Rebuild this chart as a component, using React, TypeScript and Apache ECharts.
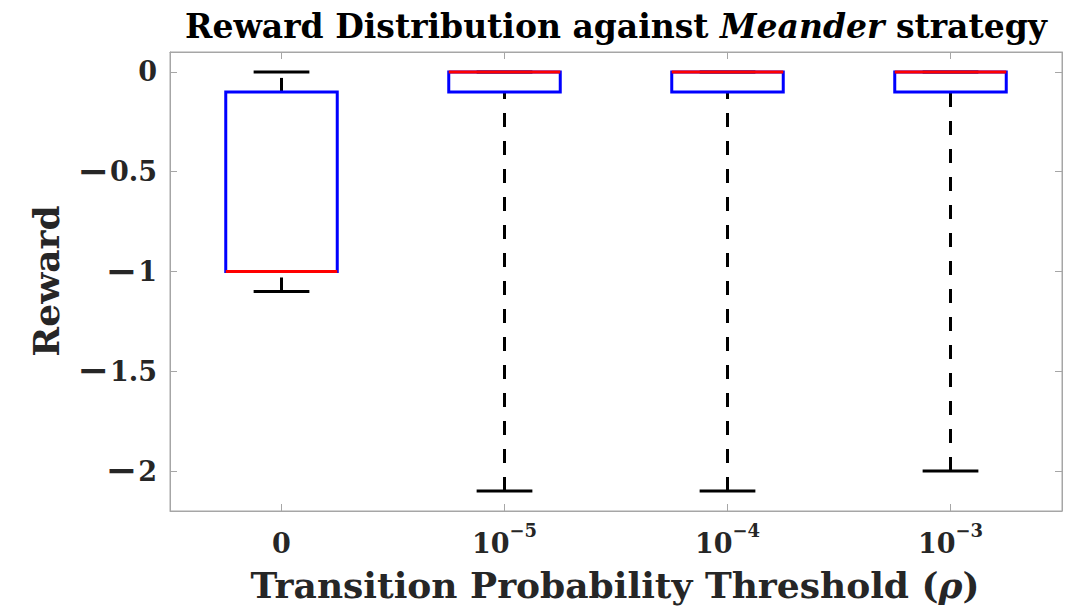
import React, { useEffect, useRef } from 'react';
import * as echarts from 'echarts';

const categories = ['0', '1e-5', '1e-4', '1e-3'];
const exponents = ['', '−5', '−4', '−3'];
const whiskerLow = [-1.1, -2.1, -2.1, -2.0];
const q1 = [-1.0, -0.1, -0.1, -0.1];
const median = [-1.0, 0, 0, 0];
const q3 = [-0.1, 0, 0, 0];
const whiskerHigh = [0, 0, 0, 0];
const yTicks = [-2, -1.5, -1, -0.5, 0];

const FONT = 'DejaVu Serif';

export default function App() {
  const ref = useRef<HTMLDivElement>(null);
  useEffect(() => {
    if (!ref.current) return;
    const chart = echarts.init(ref.current, null, { renderer: 'svg' });
    const data = categories.map((_, i) => [i, whiskerLow[i], q1[i], median[i], q3[i], whiskerHigh[i]]);
    const axisGrey = '#a6a6a6';
    const fmtY = (v: number) => (v < 0 ? '{m|−}{n|' + String(Math.abs(v)) + '}' : '{n|' + String(v) + '}');
    const xLabelFmt = (_: string, i: number) => (i === 0 ? '{b|0}' : '{b|10}{s|' + exponents[i] + '}');
    const rich = {
      b: { fontFamily: FONT, fontWeight: 'bold', fontSize: 27, color: '#262626', lineHeight: 36, verticalAlign: 'bottom' },
      s: { fontFamily: FONT, fontWeight: 'bold', fontSize: 18, color: '#262626', verticalAlign: 'top', lineHeight: 36 },
    };
    const yRich = {
      m: { fontFamily: 'DejaVu Sans', fontWeight: 'bold', fontSize: 38, color: '#262626', lineHeight: 30, padding: [0, 1, 2, 0] },
      n: { fontFamily: FONT, fontWeight: 'bold', fontSize: 27, color: '#262626', lineHeight: 30 },
    };
    const option: any = {
      animation: false,
      backgroundColor: '#ffffff',
      grid: { left: 170, right: 5, top: 52, bottom: 98, show: true, borderColor: axisGrey, borderWidth: 1 },
      xAxis: [
        {
          type: 'category',
          data: categories,
          boundaryGap: true,
          axisLine: { show: true, onZero: false, lineStyle: { color: axisGrey } },
          axisTick: { show: true, inside: true, alignWithLabel: true, length: 7, lineStyle: { color: axisGrey } },
          axisLabel: { formatter: xLabelFmt, rich, margin: 10 },
          splitLine: { show: false },
        },
        {
          type: 'category',
          data: categories,
          position: 'top',
          boundaryGap: true,
          axisLine: { show: true, onZero: false, lineStyle: { color: axisGrey } },
          axisTick: { show: true, inside: true, alignWithLabel: true, length: 7, lineStyle: { color: axisGrey } },
          axisLabel: { show: false },
          splitLine: { show: false },
        },
      ],
      yAxis: [
        {
          type: 'value',
          min: -2.2,
          max: 0.1,
          axisLine: { show: true, onZero: false, lineStyle: { color: axisGrey } },
          axisTick: { show: true, inside: true, length: 7, customValues: yTicks, lineStyle: { color: axisGrey } },
          axisLabel: {
            customValues: yTicks,
            formatter: fmtY,
            rich: yRich,
            margin: 13,
          },
          splitLine: { show: false },
        },
        {
          type: 'value',
          min: -2.2,
          max: 0.1,
          position: 'right',
          axisLine: { show: true, onZero: false, lineStyle: { color: axisGrey } },
          axisTick: { show: true, inside: true, length: 7, customValues: yTicks, lineStyle: { color: axisGrey } },
          axisLabel: { show: false },
          splitLine: { show: false },
        },
      ],
      series: [
        {
          type: 'custom',
          xAxisIndex: 0,
          yAxisIndex: 0,
          data,
          encode: { x: 0, y: [1, 2, 3, 4, 5] },
          renderItem: (params: any, api: any) => {
            const idx = api.value(0);
            const band = api.size([1, 0])[0];
            const half = band * 0.25;
            const capHalf = band * 0.125;
            const pLow = api.coord([idx, api.value(1)]);
            const pQ1 = api.coord([idx, api.value(2)]);
            const pMed = api.coord([idx, api.value(3)]);
            const pQ3 = api.coord([idx, api.value(4)]);
            const pHigh = api.coord([idx, api.value(5)]);
            const cx = pMed[0];
            const lw = 3;
            const blk = '#000000';
            const children: any[] = [];
            children.push({
              type: 'line',
              shape: { x1: cx, y1: pLow[1], x2: cx, y2: pQ1[1] },
              style: { stroke: blk, lineWidth: lw, lineDash: [14, 14] },
            });
            children.push({
              type: 'line',
              shape: { x1: cx, y1: pQ3[1], x2: cx, y2: pHigh[1] },
              style: { stroke: blk, lineWidth: lw, lineDash: [14, 14] },
            });
            children.push({
              type: 'line',
              shape: { x1: cx - capHalf, y1: pLow[1], x2: cx + capHalf, y2: pLow[1] },
              style: { stroke: blk, lineWidth: lw },
            });
            children.push({
              type: 'line',
              shape: { x1: cx - capHalf, y1: pHigh[1], x2: cx + capHalf, y2: pHigh[1] },
              style: { stroke: blk, lineWidth: lw },
            });
            children.push({
              type: 'rect',
              shape: { x: cx - half, y: pQ3[1], width: half * 2, height: pQ1[1] - pQ3[1] },
              style: { fill: 'none', stroke: '#0000ff', lineWidth: lw },
            });
            children.push({
              type: 'line',
              shape: { x1: cx - half, y1: pMed[1], x2: cx + half, y2: pMed[1] },
              style: { stroke: '#ff0000', lineWidth: lw },
            });
            return { type: 'group', children };
          },
        },
      ],
      graphic: [
        {
          type: 'text',
          x: 616,
          y: 26,
          style: {
            text: '{b|Reward Distribution against }{i|Meander}{b| strategy}',
            rich: {
              b: { fontFamily: FONT, fontWeight: 'bold', fontSize: 33, fill: '#000' },
              i: { fontFamily: FONT, fontWeight: 'bold', fontStyle: 'italic', fontSize: 33, fill: '#000' },
            },
            align: 'center',
            verticalAlign: 'middle',
          },
        },
        {
          type: 'text',
          x: 615,
          y: 585,
          style: {
            text: '{b|Transition Probability Threshold (}{i|ρ}{b|)}',
            rich: {
              b: { fontFamily: FONT, fontWeight: 'bold', fontSize: 36, fill: '#262626' },
              i: { fontFamily: FONT, fontWeight: 'bold', fontStyle: 'italic', fontSize: 36, fill: '#262626' },
            },
            align: 'center',
            verticalAlign: 'middle',
          },
        },
        {
          type: 'text',
          x: 46,
          y: 281,
          rotation: Math.PI / 2,
          style: {
            text: 'Reward',
            fontFamily: FONT,
            fontWeight: 'bold',
            fontSize: 36,
            fill: '#262626',
            align: 'center',
            verticalAlign: 'middle',
          },
        },
      ],
    };
    chart.setOption(option);
    return () => chart.dispose();
  }, []);
  return <div ref={ref} style={{ width: 1067, height: 609, position: 'absolute', left: 0, top: 0 }} />;
}
